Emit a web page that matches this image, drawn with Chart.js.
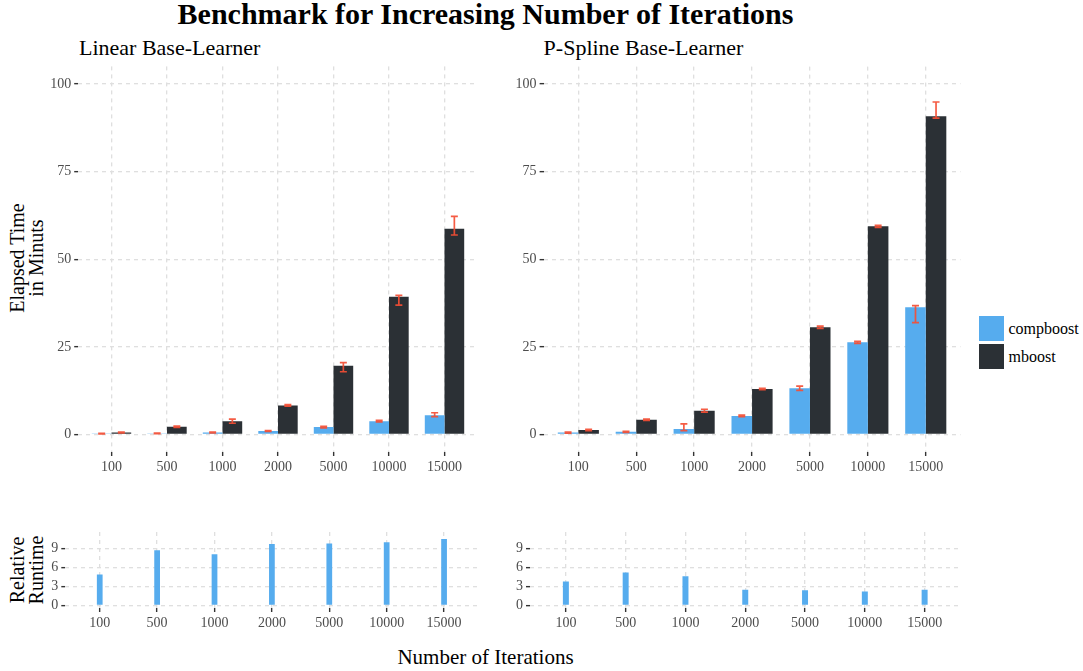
<!DOCTYPE html>
<html>
<head>
<meta charset="utf-8">
<script src="https://cdn.jsdelivr.net/npm/chart.js@4.4.0/dist/chart.umd.min.js"></script>
<style>
html,body{margin:0;padding:0;background:#fff;width:1083px;height:671px;overflow:hidden;font-family:'Liberation Serif',serif;color:#000;}
.t{position:absolute;white-space:nowrap;line-height:1;}
canvas{position:absolute;}
.lbox{position:absolute;width:25px;height:25px;}
</style>
</head>
<body>
<div class="t" id="mainTitle" style="left:0;width:971px;text-align:center;top:-1px;font-size:30px;font-weight:bold;">Benchmark for Increasing Number of Iterations</div>
<div class="t" id="sub1" style="left:79px;top:36.7px;font-size:22px;">Linear Base-Learner</div>
<div class="t" id="sub2" style="left:543.6px;top:36.7px;font-size:22px;">P-Spline Base-Learner</div>
<div class="t" id="yTitle1" style="left:-73px;top:239px;width:200px;text-align:center;font-size:20px;line-height:19px;white-space:normal;transform:rotate(-90deg);transform-origin:center;">Elapsed Time<br>in Minuts</div>
<div class="t" id="yTitle2" style="left:-73px;top:551px;width:200px;text-align:center;font-size:20px;line-height:19px;white-space:normal;transform:rotate(-90deg);transform-origin:center;">Relative<br>Runtime</div>
<div class="t" id="xTitle" style="left:0;width:971px;text-align:center;top:647px;font-size:21px;">Number of Iterations</div>
<div id="legend"></div>

<canvas id="cTopLeft" width="490" height="425" style="left:0;top:55px;"></canvas>
<canvas id="cTopRight" width="490" height="425" style="left:490px;top:55px;"></canvas>
<canvas id="cBotLeft" width="490" height="120" style="left:0;top:520px;"></canvas>
<canvas id="cBotRight" width="490" height="120" style="left:490px;top:520px;"></canvas>

<script>
// ---------------- data ----------------
const iterations = ['100','500','1000','2000','5000','10000','15000'];
const seriesNames = ['compboost','mboost'];

// Linear base-learner, elapsed minutes
const linCompboost   = [0.25, 0.3, 0.55, 1.0, 2.1, 3.8, 5.5];
const linCompboostLo = [0.15, 0.2, 0.45, 0.9, 1.9, 3.6, 5.1];
const linCompboostHi = [0.35, 0.4, 0.65, 1.1, 2.3, 4.0, 6.2];
const linMboost      = [0.55, 2.2, 3.8, 8.3, 19.6, 39.3, 58.7];
const linMboostLo    = [0.45, 2.0, 3.2, 8.1, 17.9, 36.9, 56.9];
const linMboostHi    = [0.65, 2.4, 4.4, 8.5, 20.5, 39.7, 62.2];

// P-spline base-learner, elapsed minutes
const psCompboost    = [0.55, 0.75, 1.6, 5.3, 13.2, 26.3, 36.3];
const psCompboostLo  = [0.4, 0.6, 1.1, 5.1, 12.6, 26.0, 31.9];
const psCompboostHi  = [0.7, 0.9, 3.0, 5.5, 13.8, 26.6, 36.8];
const psMboost       = [1.3, 4.2, 6.8, 13.0, 30.6, 59.4, 90.8];
const psMboostLo     = [1.1, 4.0, 6.4, 12.8, 30.3, 59.1, 90.3];
const psMboostHi     = [1.5, 4.4, 7.2, 13.2, 30.9, 59.7, 94.9];

// Relative runtime (mboost / compboost)
const linRelative    = [4.9, 8.7, 8.1, 9.7, 9.8, 10.0, 10.5];
const psRelative     = [3.8, 5.2, 4.6, 2.5, 2.4, 2.2, 2.5];

// tick labels
const timeTicks = [0, 25, 50, 75, 100];
const relTicks  = [0, 3, 6, 9];

// ---------------- styles ----------------
const seriesColors = ['#56ACEE', '#2B3035'];
const errColor = 'rgba(244,78,52,0.92)';
const gridColor = '#DFDFDF';
const tickTextColor = '#4D4D4D';
const FONT = "'Liberation Serif', serif";

Chart.defaults.font.family = FONT;
Chart.defaults.font.size = 14;
Chart.defaults.color = tickTextColor;

const errorBars = {
  id: 'errorBars',
  afterDatasetsDraw(chart) {
    const ctx = chart.ctx, ys = chart.scales.y;
    chart.data.datasets.forEach((ds, di) => {
      if (!ds.errLo) return;
      const meta = chart.getDatasetMeta(di);
      meta.data.forEach((bar, i) => {
        const x = bar.x;
        const y1 = ys.getPixelForValue(ds.errLo[i]);
        const y2 = ys.getPixelForValue(ds.errHi[i]);
        ctx.save();
        ctx.strokeStyle = errColor;
        ctx.lineWidth = 1.7;
        ctx.beginPath();
        ctx.moveTo(x, y1); ctx.lineTo(x, y2);
        ctx.moveTo(x - 3.5, y1); ctx.lineTo(x + 3.5, y1);
        ctx.moveTo(x - 3.5, y2); ctx.lineTo(x + 3.5, y2);
        ctx.stroke();
        ctx.restore();
      });
    });
  }
};

function pts(arr) { return arr.map((v, i) => ({ x: i, y: v })); }

function axisCommon() {
  return {
    grid: { color: gridColor, lineWidth: 1.3, offset: false, drawTicks: true, tickLength: 4,
            tickColor: '#333333', tickWidth: 1.4, tickBorderDash: [] },
    border: { display: false, dash: [4, 4] }
  };
}

function makeChart(id, datasets, cfg) {
  const xa = axisCommon(), ya = axisCommon();
  return new Chart(document.getElementById(id), {
    type: 'bar',
    data: { datasets },
    options: {
      responsive: false,
      animation: false,
      events: [],
      layout: { padding: { left: 0, top: cfg.padTop, right: cfg.padRight, bottom: 0 } },
      plugins: { legend: { display: false }, tooltip: { enabled: false }, title: { display: false } },
      scales: {
        x: Object.assign(xa, {
          type: 'linear', min: -0.6, max: 6.6, offset: false,
          afterBuildTicks: s => { s.ticks = iterations.map((_, i) => ({ value: i })); },
          afterFit: s => { s.height = cfg.xHeight; },
          ticks: { callback: v => iterations[v], autoSkip: false, maxRotation: 0, minRotation: 0,
                   padding: 3, color: tickTextColor, font: { size: 14 } }
        }),
        y: Object.assign(ya, {
          type: 'linear', min: cfg.yMin, max: cfg.yMax,
          afterBuildTicks: s => { s.ticks = cfg.yTicks.map(v => ({ value: v })); },
          afterFit: s => { s.width = cfg.yWidth; },
          ticks: { padding: 3, color: tickTextColor, font: { size: 14 } }
        })
      }
    },
    plugins: [errorBars]
  });
}

function groupedSets(a, aLo, aHi, b, bLo, bHi) {
  return [
    { label: seriesNames[0], data: pts(a), errLo: aLo, errHi: aHi, backgroundColor: seriesColors[0],
      borderWidth: 0, categoryPercentage: 0.71, barPercentage: 1.0 },
    { label: seriesNames[1], data: pts(b), errLo: bLo, errHi: bHi, backgroundColor: seriesColors[1],
      borderWidth: 0, categoryPercentage: 0.71, barPercentage: 1.0 }
  ];
}

makeChart('cTopLeft',
  groupedSets(linCompboost, linCompboostLo, linCompboostHi, linMboost, linMboostLo, linMboostHi),
  { padTop: 8.7, padRight: 12.2, xHeight: 28, yWidth: 78.2, yMin: -5, yMax: 105, yTicks: timeTicks });

makeChart('cTopRight',
  groupedSets(psCompboost, psCompboostLo, psCompboostHi, psMboost, psMboostLo, psMboostHi),
  { padTop: 11.6, padRight: 19.5, xHeight: 28, yWidth: 53.6, yMin: -5, yMax: 105, yTicks: timeTicks });

makeChart('cBotLeft',
  [{ label: 'relative', data: pts(linRelative), backgroundColor: seriesColors[0], borderWidth: 0,
     categoryPercentage: 0.1, barPercentage: 1.0 }],
  { padTop: 12, padRight: 11.5, xHeight: 32, yWidth: 65.3, yMin: -0.4, yMax: 11.6, yTicks: relTicks });

makeChart('cBotRight',
  [{ label: 'relative', data: pts(psRelative), backgroundColor: seriesColors[0], borderWidth: 0,
     categoryPercentage: 0.1, barPercentage: 1.0 }],
  { padTop: 12, padRight: 19.5, xHeight: 32, yWidth: 40, yMin: -0.4, yMax: 11.6, yTicks: relTicks });

// legend (HTML, from series names/colours)
const leg = document.getElementById('legend');
seriesNames.forEach((name, i) => {
  const top = 316 + i * 28;
  const box = document.createElement('div');
  box.className = 'lbox';
  box.style.left = '979px'; box.style.top = top + 'px';
  box.style.background = seriesColors[i];
  leg.appendChild(box);
  const txt = document.createElement('div');
  txt.className = 't';
  txt.style.left = '1008.5px';
  txt.style.top = (top + 4.8) + 'px';
  txt.style.fontSize = '16px';
  txt.textContent = name;
  leg.appendChild(txt);
});
</script>
</body>
</html>
